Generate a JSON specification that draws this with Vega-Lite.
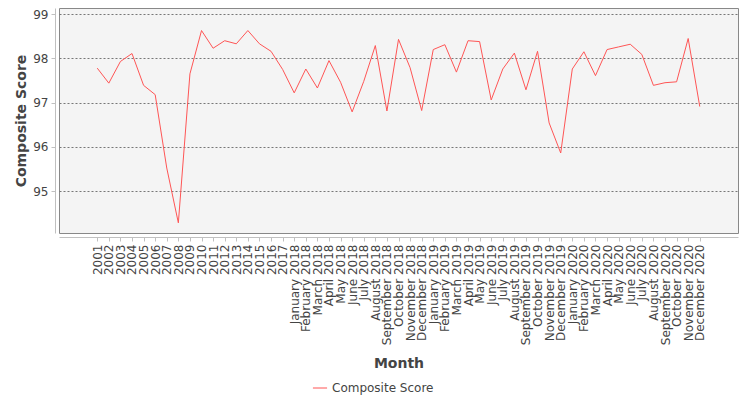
{
  "$schema": "https://vega.github.io/schema/vega-lite/v6.json",
  "autosize": "none",
  "width": 679,
  "height": 225,
  "padding": {"left": 59, "top": 8, "right": 12, "bottom": 167},
  "background": "white",
  "config": {
    "font": "DejaVu Sans",
    "view": {"fill": "#f4f4f4", "stroke": "#888888", "strokeWidth": 1}
  },
  "data": {
    "values": [
      {"i": 0, "Month": "2001", "score": 97.78},
      {"i": 1, "Month": "2002", "score": 97.44},
      {"i": 2, "Month": "2003", "score": 97.93},
      {"i": 3, "Month": "2004", "score": 98.11},
      {"i": 4, "Month": "2005", "score": 97.39},
      {"i": 5, "Month": "2006", "score": 97.18},
      {"i": 6, "Month": "2007", "score": 95.52},
      {"i": 7, "Month": "2008", "score": 94.28},
      {"i": 8, "Month": "2009", "score": 97.65},
      {"i": 9, "Month": "2010", "score": 98.63},
      {"i": 10, "Month": "2011", "score": 98.23},
      {"i": 11, "Month": "2012", "score": 98.40},
      {"i": 12, "Month": "2013", "score": 98.33},
      {"i": 13, "Month": "2014", "score": 98.63},
      {"i": 14, "Month": "2015", "score": 98.33},
      {"i": 15, "Month": "2016", "score": 98.16},
      {"i": 16, "Month": "2017", "score": 97.75},
      {"i": 17, "Month": "January 2018", "score": 97.22},
      {"i": 18, "Month": "February 2018", "score": 97.76},
      {"i": 19, "Month": "March 2018", "score": 97.33},
      {"i": 20, "Month": "April 2018", "score": 97.95},
      {"i": 21, "Month": "May 2018", "score": 97.46},
      {"i": 22, "Month": "June 2018", "score": 96.79},
      {"i": 23, "Month": "July 2018", "score": 97.48},
      {"i": 24, "Month": "August 2018", "score": 98.29},
      {"i": 25, "Month": "September 2018", "score": 96.81},
      {"i": 26, "Month": "October 2018", "score": 98.43},
      {"i": 27, "Month": "November 2018", "score": 97.79},
      {"i": 28, "Month": "December 2018", "score": 96.82},
      {"i": 29, "Month": "January 2019", "score": 98.20},
      {"i": 30, "Month": "February 2019", "score": 98.31},
      {"i": 31, "Month": "March 2019", "score": 97.69},
      {"i": 32, "Month": "April 2019", "score": 98.40},
      {"i": 33, "Month": "May 2019", "score": 98.38},
      {"i": 34, "Month": "June 2019", "score": 97.06},
      {"i": 35, "Month": "July 2019", "score": 97.76},
      {"i": 36, "Month": "August 2019", "score": 98.12},
      {"i": 37, "Month": "September 2019", "score": 97.29},
      {"i": 38, "Month": "October 2019", "score": 98.16},
      {"i": 39, "Month": "November 2019", "score": 96.54},
      {"i": 40, "Month": "December 2019", "score": 95.86},
      {"i": 41, "Month": "January 2020", "score": 97.76},
      {"i": 42, "Month": "February 2020", "score": 98.15},
      {"i": 43, "Month": "March 2020", "score": 97.61},
      {"i": 44, "Month": "April 2020", "score": 98.20},
      {"i": 45, "Month": "May 2020", "score": 98.26},
      {"i": 46, "Month": "June 2020", "score": 98.32},
      {"i": 47, "Month": "July 2020", "score": 98.09},
      {"i": 48, "Month": "August 2020", "score": 97.39},
      {"i": 49, "Month": "September 2020", "score": 97.45},
      {"i": 50, "Month": "October 2020", "score": 97.47},
      {"i": 51, "Month": "November 2020", "score": 98.45},
      {"i": 52, "Month": "December 2020", "score": 96.91}
    ]
  },
  "mark": {"type": "line", "strokeWidth": 1},
  "encoding": {
    "x": {
      "field": "i",
      "type": "quantitative",
      "title": "Month",
      "scale": {"domain": [-3.3, 55.3], "nice": false, "zero": false},
      "axis": {
        "offset": 4,
        "grid": false,
        "values": [0, 1, 2, 3, 4, 5, 6, 7, 8, 9, 10, 11, 12, 13, 14, 15, 16, 17, 18, 19, 20, 21, 22, 23, 24, 25, 26, 27, 28, 29, 30, 31, 32, 33, 34, 35, 36, 37, 38, 39, 40, 41, 42, 43, 44, 45, 46, 47, 48, 49, 50, 51, 52],
        "labelExpr": "['2001','2002','2003','2004','2005','2006','2007','2008','2009','2010','2011','2012','2013','2014','2015','2016','2017','January 2018','February 2018','March 2018','April 2018','May 2018','June 2018','July 2018','August 2018','September 2018','October 2018','November 2018','December 2018','January 2019','February 2019','March 2019','April 2019','May 2019','June 2019','July 2019','August 2019','September 2019','October 2019','November 2019','December 2019','January 2020','February 2020','March 2020','April 2020','May 2020','June 2020','July 2020','August 2020','September 2020','October 2020','November 2020','December 2020'][datum.value]",
        "labelOverlap": false,
        "labelFlush": false,
        "labelAngle": -90,
        "labelAlign": "right",
        "labelBaseline": "middle",
        "labelFontSize": 12,
        "labelColor": "#444444",
        "labelPadding": 3,
        "domainColor": "#c0c0c0",
        "tickColor": "#c0c0c0",
        "tickSize": 4,
        "titleFontSize": 14,
        "titleFontWeight": "bold",
        "titleColor": "#444444",
        "titlePadding": 12
      }
    },
    "y": {
      "field": "score",
      "type": "quantitative",
      "title": "Composite Score",
      "scale": {"domain": [94.05, 99.14], "nice": false, "zero": false},
      "axis": {
        "offset": 4,
        "values": [95, 96, 97, 98, 99],
        "grid": true,
        "gridColor": "#777777",
        "gridDash": [2, 2],
        "gridWidth": 1,
        "labelFontSize": 12,
        "labelColor": "#444444",
        "labelPadding": 3,
        "domainColor": "#c0c0c0",
        "tickColor": "#c0c0c0",
        "tickSize": 4,
        "titleFontSize": 14,
        "titleFontWeight": "bold",
        "titleColor": "#444444",
        "titlePadding": 4
      }
    },
    "color": {
      "datum": "Composite Score",
      "type": "nominal",
      "scale": {"range": ["#ff5555"]},
      "legend": {
        "title": null,
        "orient": "none",
        "legendX": 253,
        "legendY": 372,
        "direction": "horizontal",
        "symbolType": "stroke",
        "symbolStrokeWidth": 1,
        "symbolSize": 200,
        "labelFontSize": 12,
        "labelColor": "#444444"
      }
    }
  }
}
